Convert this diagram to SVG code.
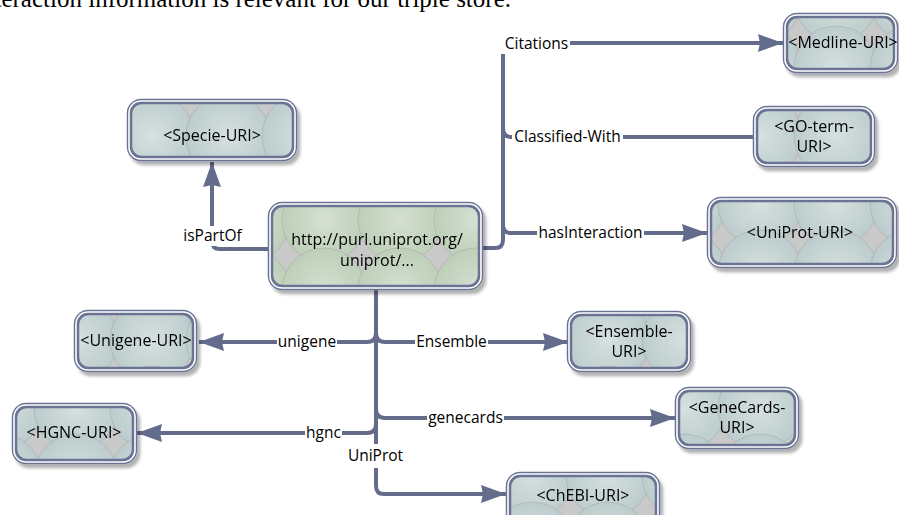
<svg xmlns="http://www.w3.org/2000/svg" width="899" height="515" viewBox="0 0 899 515">
<defs>
<style>
.lbl{font-family:"Open Sans","Liberation Sans",sans-serif;font-size:15.5px;fill:#000;text-anchor:middle;dominant-baseline:central}
.ntx{font-family:"Open Sans","Liberation Sans",sans-serif;font-size:16px;fill:#000;text-anchor:middle}
.conn{fill:none;stroke:#646c8c;stroke-width:4}
.lb{fill:#fff}
.ob{fill:none;stroke:#6a7393;stroke-width:5.5}
.wb{fill:none;stroke:#fff;stroke-width:1.6}
</style>
<radialGradient id="gT" cx="0.5" cy="0.5" r="0.5">
<stop offset="0" stop-color="#d6e0e0"/><stop offset="1" stop-color="#bccccc"/>
</radialGradient>
<radialGradient id="gG" cx="0.5" cy="0.5" r="0.5">
<stop offset="0" stop-color="#d5e0d1"/><stop offset="1" stop-color="#bdcfb9"/>
</radialGradient>
<pattern id="pT" patternUnits="userSpaceOnUse" width="76" height="68">
<rect width="76" height="68" fill="#c9c9c9"/>
<g fill="url(#gT)" stroke="#a4a4a4" stroke-width="0.5">
<circle cx="0" cy="0" r="42"/><circle cx="76" cy="0" r="42"/><circle cx="0" cy="68" r="42"/><circle cx="76" cy="68" r="42"/>
</g>
</pattern>
<pattern id="pG" patternUnits="userSpaceOnUse" width="76" height="70" x="20" y="10">
<rect width="76" height="70" fill="#c9c9c9"/>
<g fill="url(#gG)" stroke="#a4a4a4" stroke-width="0.5">
<circle cx="0" cy="0" r="42"/><circle cx="76" cy="0" r="42"/><circle cx="0" cy="70" r="42"/><circle cx="76" cy="70" r="42"/>
</g>
</pattern>
<filter id="sh" x="-10%" y="-10%" width="130%" height="140%">
<feDropShadow dx="3" dy="4" stdDeviation="1.8" flood-color="#000" flood-opacity="0.3"/>
</filter>
<marker id="ar" markerUnits="userSpaceOnUse" markerWidth="26" markerHeight="18" refX="25" refY="9" orient="auto">
<path d="M0,0 L25,9 L0,18 L2,9 Z" fill="#646c8c"/>
</marker>
</defs>
<rect width="899" height="515" fill="#fff"/>
<text x="511" y="7" font-family="Liberation Serif,serif" font-size="25" text-anchor="end" fill="#000">teraction information is relevant for our triple store.</text>

<g id="connectors">
<path class="conn" d="M268,249 H220 Q212,249 212,241 V162" marker-end="url(#ar)"/>
<path class="conn" d="M483,248 H495 Q503,248 503,240 V43 H783" marker-end="url(#ar)"/>
<path class="conn" d="M503,128 Q503,137 511,137 H755"/>
<path class="conn" d="M503,225 Q503,233 511,233 H707" marker-end="url(#ar)"/>
<path class="conn" d="M376,290 V486 Q376,494 384,494 H506" marker-end="url(#ar)"/>
<path class="conn" d="M376,333 Q376,342 367,342 H199" marker-end="url(#ar)"/>
<path class="conn" d="M376,333 Q376,342 385,342 H568" marker-end="url(#ar)"/>
<path class="conn" d="M376,409 Q376,418 385,418 H675" marker-end="url(#ar)"/>
<path class="conn" d="M376,424 Q376,433 367,433 H137" marker-end="url(#ar)"/>
<rect class="lb" x="182" y="226" width="61" height="20"/>
<text class="lbl" x="212.5" y="235">isPartOf</text>
<rect class="lb" x="500" y="33" width="70" height="21"/>
<text class="lbl" x="536.5" y="43">Citations</text>
<rect class="lb" x="512" y="129" width="111" height="16"/>
<text class="lbl" x="567.5" y="136">Classified-With</text>
<rect class="lb" x="537" y="225" width="107" height="16"/>
<text class="lbl" x="590.5" y="232">hasInteraction</text>
<rect class="lb" x="277" y="334" width="60" height="16"/>
<text class="lbl" x="307" y="341">unigene</text>
<rect class="lb" x="415" y="334" width="73" height="16"/>
<text class="lbl" x="451.5" y="341">Ensemble</text>
<rect class="lb" x="427" y="410" width="77" height="16"/>
<text class="lbl" x="465.5" y="417">genecards</text>
<rect class="lb" x="305" y="425" width="37" height="16"/>
<text class="lbl" x="323.5" y="432">hgnc</text>
<rect class="lb" x="347" y="444" width="57" height="24"/>
<text class="lbl" x="375.5" y="455">UniProt</text>
</g>

<g id="n-specie" filter="url(#sh)">
<rect x="127" y="99" width="170" height="62" rx="14" fill="url(#pT)"/>
<rect class="ob" x="129.5" y="101.5" width="165" height="57" rx="12"/>
<rect class="wb" x="129" y="101" width="166" height="58" rx="12"/>
<text class="ntx" x="212" y="141">&lt;Specie-URI&gt;</text>
</g>
<g id="n-center" filter="url(#sh)">
<rect x="268" y="202" width="215" height="88" rx="14" fill="url(#pG)"/>
<rect class="ob" x="270.5" y="204.5" width="210" height="83" rx="12"/>
<rect class="wb" x="270" y="204" width="211" height="84" rx="12"/>
<text class="ntx" x="377" y="245">http://purl.uniprot.org/</text>
<text class="ntx" x="377" y="266">uniprot/...</text>
</g>
<g id="n-medline" filter="url(#sh)">
<rect x="783" y="13" width="115" height="60" rx="14" fill="url(#pT)"/>
<rect class="ob" x="785.5" y="15.5" width="110" height="55" rx="12"/>
<rect class="wb" x="785" y="15" width="111" height="56" rx="12"/>
<text class="ntx" x="843" y="48">&lt;Medline-URI&gt;</text>
</g>
<g id="n-goterm" filter="url(#sh)">
<rect x="753" y="106" width="122" height="61" rx="14" fill="url(#pT)"/>
<rect class="ob" x="755.5" y="108.5" width="117" height="56" rx="12"/>
<rect class="wb" x="755" y="108" width="118" height="57" rx="12"/>
<text class="ntx" x="814" y="132">&lt;GO-term-</text>
<text class="ntx" x="814" y="152">URI&gt;</text>
</g>
<g id="n-uniprot" filter="url(#sh)">
<rect x="707" y="197" width="190" height="71" rx="14" fill="url(#pT)"/>
<rect class="ob" x="709.5" y="199.5" width="185" height="66" rx="12"/>
<rect class="wb" x="709" y="199" width="186" height="67" rx="12"/>
<text class="ntx" x="800" y="238">&lt;UniProt-URI&gt;</text>
</g>
<g id="n-unigene" filter="url(#sh)">
<rect x="74" y="310" width="123" height="62" rx="14" fill="url(#pT)"/>
<rect class="ob" x="76.5" y="312.5" width="118" height="57" rx="12"/>
<rect class="wb" x="76" y="312" width="119" height="58" rx="12"/>
<text class="ntx" x="136" y="346">&lt;Unigene-URI&gt;</text>
</g>
<g id="n-ensemble" filter="url(#sh)">
<rect x="567" y="311" width="124" height="61" rx="14" fill="url(#pT)"/>
<rect class="ob" x="569.5" y="313.5" width="119" height="56" rx="12"/>
<rect class="wb" x="569" y="313" width="120" height="57" rx="12"/>
<text class="ntx" x="629" y="337">&lt;Ensemble-</text>
<text class="ntx" x="629" y="357">URI&gt;</text>
</g>
<g id="n-genecards" filter="url(#sh)">
<rect x="675" y="387" width="124" height="62" rx="14" fill="url(#pT)"/>
<rect class="ob" x="677.5" y="389.5" width="119" height="57" rx="12"/>
<rect class="wb" x="677" y="389" width="120" height="58" rx="12"/>
<text class="ntx" x="737" y="413">&lt;GeneCards-</text>
<text class="ntx" x="737" y="433">URI&gt;</text>
</g>
<g id="n-hgnc" filter="url(#sh)">
<rect x="12" y="403" width="125" height="61" rx="14" fill="url(#pT)"/>
<rect class="ob" x="14.5" y="405.5" width="120" height="56" rx="12"/>
<rect class="wb" x="14" y="405" width="121" height="57" rx="12"/>
<text class="ntx" x="74" y="438">&lt;HGNC-URI&gt;</text>
</g>
<g id="n-chebi" filter="url(#sh)">
<rect x="506" y="472" width="154" height="60" rx="14" fill="url(#pT)"/>
<rect class="ob" x="508.5" y="474.5" width="149" height="55" rx="12"/>
<rect class="wb" x="508" y="474" width="150" height="56" rx="12"/>
<text class="ntx" x="583" y="501">&lt;ChEBI-URI&gt;</text>
</g>
</svg>
